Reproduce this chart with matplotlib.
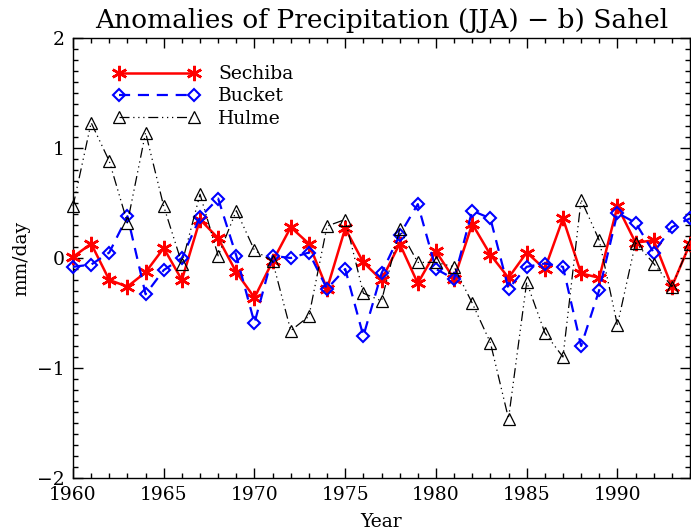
import matplotlib
matplotlib.use("Agg")
import matplotlib.pyplot as plt
from matplotlib.ticker import MultipleLocator

years = list(range(1960, 1995))
sechiba = [0.01, 0.13, -0.20, -0.26, -0.13, 0.09, -0.20, 0.35, 0.18, -0.13,
           -0.36, -0.03, 0.28, 0.13, -0.28, 0.27, -0.04, -0.20, 0.13, -0.23,
           0.06, -0.19, 0.31, 0.03, -0.18, 0.05, -0.10, 0.36, -0.14, -0.18,
           0.47, 0.14, 0.16, -0.26, 0.13]
bucket = [-0.08, -0.06, 0.05, 0.38, -0.33, -0.11, 0.00, 0.37, 0.54, 0.02,
          -0.59, 0.02, 0.00, 0.05, -0.28, -0.10, -0.71, -0.14, 0.21, 0.49,
          -0.10, -0.19, 0.43, 0.36, -0.28, -0.08, -0.05, -0.08, -0.80, -0.29,
          0.41, 0.32, 0.05, 0.28, 0.36]
hulme = [0.47, 1.23, 0.88, 0.32, 1.14, 0.47, -0.05, 0.58, 0.02, 0.43,
         0.07, -0.03, -0.66, -0.53, 0.29, 0.35, -0.32, -0.39, 0.26, -0.04,
         -0.04, -0.08, -0.41, -0.77, -1.46, -0.22, -0.68, -0.90, 0.53, 0.16,
         -0.61, 0.14, -0.05, -0.26, 0.13]

plt.rcParams['font.family'] = ['DejaVu Serif']

fig = plt.figure(figsize=(6.91, 5.30), dpi=100)
ax = fig.add_axes([73/691, 52/530, 617/691, 440/530])

ax.plot(years, sechiba, color='#ff0000', lw=1.8, marker=(6, 2, 0), ms=11,
        mec='#ff0000', mew=1.8, label='Sechiba', clip_on=False, zorder=3)
ax.plot(years, bucket, color='#0000ff', lw=1.6, ls=(0, (5, 3.5)), marker='D',
        ms=6.5, mfc='none', mec='#0000ff', mew=1.5, label='Bucket', clip_on=False, zorder=4)
ax.plot(years, hulme, color='black', lw=0.9, ls=(0, (8, 3, 1, 3, 1, 3, 1, 3)),
        marker='^', ms=9, mfc='none', mec='black', mew=0.9, label='Hulme', clip_on=False, zorder=5)

ax.set_xlim(1960, 1994)
ax.set_ylim(-2, 2)
ax.xaxis.set_major_locator(MultipleLocator(5))
ax.xaxis.set_minor_locator(MultipleLocator(1))
ax.yaxis.set_major_locator(MultipleLocator(1))
ax.yaxis.set_minor_locator(MultipleLocator(0.1))
ax.tick_params(which='both', direction='in', top=True, right=True, labelsize=13.5, width=1)
ax.tick_params(which='major', length=7.5, pad=6)
ax.tick_params(which='minor', length=3.8)
for s in ax.spines.values():
    s.set_linewidth(1)

ax.set_title('Anomalies of Precipitation (JJA) \u2212 b) Sahel', fontsize=19, pad=7)
ax.set_xlabel('Year', fontsize=13.5, labelpad=6)
ax.set_ylabel('mm/day', fontsize=13.5, labelpad=5)

ax.legend(loc='upper left', bbox_to_anchor=(0.053, 0.955), frameon=False, fontsize=13.5,
          numpoints=2, handlelength=4.6, labelspacing=0.22, handletextpad=1.0,
          borderaxespad=0)

fig.savefig('out.png', dpi=100)
